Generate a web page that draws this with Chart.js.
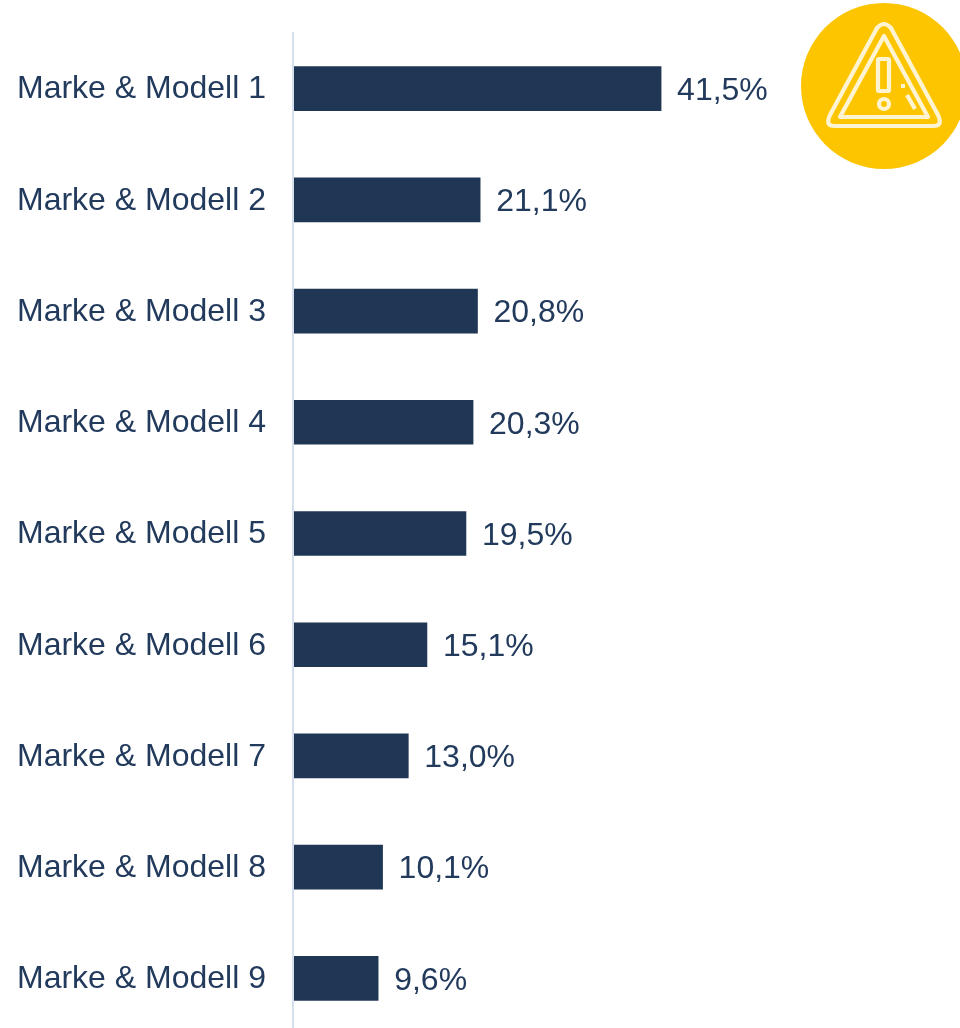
<!DOCTYPE html>
<html lang="de">

<head>
  <meta charset="UTF-8" />
  <title>Marke & Modell</title>
  <script src="https://cdn.jsdelivr.net/npm/chart.js"></script>
  <style>
    html, body { margin: 0; height: 1028px; overflow: hidden; background: #fff; }
    .grafico { position: relative; width: 960px; height: 1034px; }
    canvas { display: block; }
    .icone { position: absolute; left: 790px; top: 0; }
  </style>
</head>

<body>
  <div class="grafico">
    <canvas id="myChart" width="960" height="1034"></canvas>
    <!-- warning badge top right -->
    <svg class="icone" width="170" height="172" viewBox="790 0 170 172">
      <defs>
        <filter id="suave"><feGaussianBlur stdDeviation="0.6" /></filter>
      </defs>
      <circle cx="884" cy="86" r="83" fill="#fdc500" />
      <g fill="none" stroke="#fff4d2" stroke-width="4.2" filter="url(#suave)" stroke-linejoin="round">
        <path d="M877 28 Q884 20 891 28 L938 115 Q943 126 934 126 L834 126 Q825 126 830 115 Z" />
        <path d="M884 36 L928 117 L840 117 Z" />
        <rect x="878" y="59" width="11" height="32" rx="1" />
        <circle cx="884" cy="104" r="5" />
        <path d="M901 86 L905 86 M907 95 L915 109" />
      </g>
    </svg>
  </div>

  <script>
    const categorias = ['Marke & Modell 1', 'Marke & Modell 2', 'Marke & Modell 3', 'Marke & Modell 4', 'Marke & Modell 5',
      'Marke & Modell 6', 'Marke & Modell 7', 'Marke & Modell 8', 'Marke & Modell 9'];
    const valores = [41.5, 21.1, 20.8, 20.3, 19.5, 15.1, 13.0, 10.1, 9.6];
    const rotulos = ['41,5%', '21,1%', '20,8%', '20,3%', '19,5%', '15,1%', '13,0%', '10,1%', '9,6%'];

    const corTexto = '#223a5c';
    const fonte = 'Liberation Sans';

    // category names on the left and values next to the bars
    const rotulosBarras = {
      id: 'rotulosBarras',
      afterDatasetsDraw(chart) {
        const ctx = chart.ctx;
        const eixoY = chart.scales.y;
        ctx.save();
        ctx.font = `32px "${fonte}"`;
        ctx.fillStyle = corTexto;
        ctx.textAlign = 'left';
        ctx.textBaseline = 'middle';
        categorias.forEach(function (nome, i) {
          ctx.fillText(nome, 17, eixoY.getPixelForTick(i) + 1);
        });
        chart.getDatasetMeta(0).data.forEach(function (barra, i) {
          ctx.fillText(rotulos[i], barra.x + 16, barra.y + 2.5);
        });
        ctx.restore();
      }
    };

    new Chart(document.getElementById('myChart'), {
      type: 'bar',
      data: {
        labels: categorias,
        datasets: [{
          data: valores,
          backgroundColor: '#203655',
          barThickness: 44
        }]
      },
      options: {
        indexAxis: 'y',
        responsive: false,
        animation: false,
        layout: { padding: { left: 17, top: 33, right: 0, bottom: 0 } },
        plugins: { legend: { display: false }, tooltip: { enabled: false } },
        scales: {
          x: { display: false, min: 0, max: 75.2 },
          y: {
            afterFit(scale) { scale.width = 276; },
            grid: { display: false },
            border: { color: '#d5dfee', width: 2, z: 1 },
            ticks: { display: false }
          }
        }
      },
      plugins: [rotulosBarras]
    });
  </script>
</body>

</html>
